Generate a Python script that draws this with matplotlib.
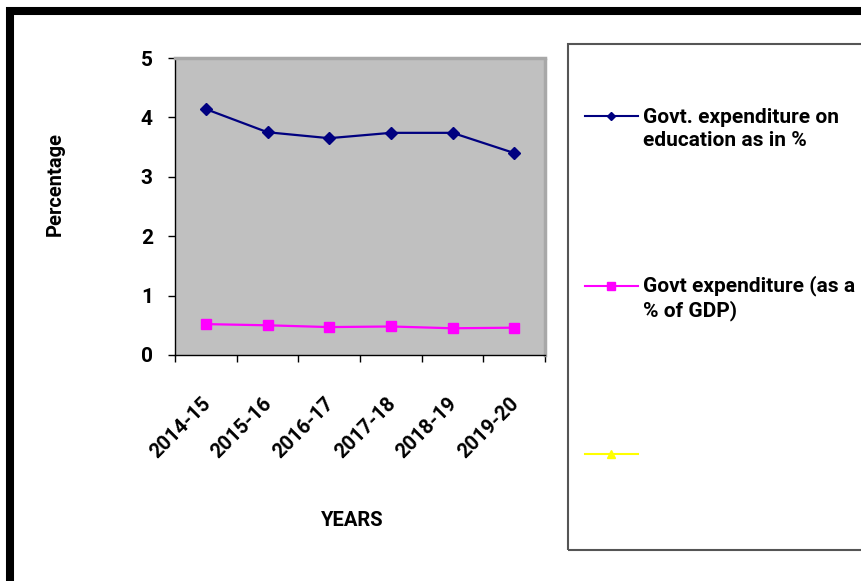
import matplotlib
matplotlib.use('Agg')
import matplotlib.pyplot as plt
import matplotlib.transforms as mtransforms
from matplotlib.lines import Line2D
from matplotlib.patches import Rectangle
from matplotlib.legend_handler import HandlerLine2D

# Data
years = ['2014-15', '2015-16', '2016-17', '2017-18', '2018-19', '2019-20']
edu_pct = [4.14, 3.75, 3.65, 3.74, 3.74, 3.40]
gdp_pct = [0.52, 0.50, 0.47, 0.48, 0.45, 0.46]

label_edu = 'Govt. expenditure on\neducation as in %'
label_gdp = 'Govt expenditure (as a\n% of GDP)'

plt.rcParams['font.family'] = ['Roboto', 'Liberation Sans', 'DejaVu Sans']
plt.rcParams['font.weight'] = 'bold'


class HandlerFirstLine(HandlerLine2D):
    # put the legend sample level with the first text line
    def __init__(self, dy, **kw):
        super().__init__(**kw)
        self.dy = dy

    def create_artists(self, legend, orig_handle, xdescent, ydescent, width,
                       height, fontsize, trans):
        return super().create_artists(legend, orig_handle, xdescent,
                                      ydescent - self.dy * fontsize, width,
                                      height, fontsize, trans)


fig = plt.figure(figsize=(8.62, 5.81), dpi=100)
W, H = 862, 581

# outer black frame
fig.patches.append(Rectangle((10 / W, -4 / H), 900 / W, (H - 11 + 4) / H,
                             transform=fig.transFigure, fill=False,
                             edgecolor='black', linewidth=5.8))

# legend box
fig.patches.append(Rectangle((568 / W, 1 - 550 / H), 320 / W, (550 - 44) / H,
                             transform=fig.transFigure, fill=False,
                             edgecolor='#555555', linewidth=1.5))

ax = fig.add_axes([175 / W, 1 - 355 / H, 370 / W, 297 / H])
ax.set_facecolor('#C0C0C0')

x = [i + 0.5 for i in range(len(years))]
ax.plot(x, edu_pct, color='#000080', marker='D', markersize=6, linewidth=1.6)
ax.plot(x, gdp_pct, color='#FF00FF', marker='s', markersize=7.5, linewidth=1.6)

ax.set_xlim(0, len(years))
ax.set_ylim(0, 5)
ax.set_yticks(range(0, 6))
ax.set_xticks(range(0, len(years) + 1))
ax.set_xticklabels([])
ax.set_xticks(x, minor=True)
ax.set_xticklabels(years, minor=True, rotation=45, ha='right',
                   rotation_mode='anchor', fontsize=14.5, fontweight='bold')
ax.tick_params(axis='x', which='minor', length=0, pad=28)
ax.tick_params(axis='x', which='major', direction='out', length=5, width=1)
ax.tick_params(axis='y', direction='out', length=5, width=1, pad=11, labelsize=15)
for t in ax.get_yticklabels():
    t.set_fontweight('bold')
shift = mtransforms.ScaledTranslation(-5 / 100, 0, fig.dpi_scale_trans)
for t in ax.get_xticklabels(minor=True):
    t.set_transform(t.get_transform() + shift)

for side in ['top', 'right']:
    ax.spines[side].set_color('#a8a8a8')
    ax.spines[side].set_linestyle((0, (1, 1)))
    ax.spines[side].set_linewidth(2.5)
for side in ['left', 'bottom']:
    ax.spines[side].set_color('black')
    ax.spines[side].set_linewidth(1)

fig.text(55 / W, 1 - 184 / H, 'Percentage', rotation=90, ha='center', va='center',
         fontsize=14.5, fontweight='bold')
fig.text(352 / W, 1 - 520 / H, 'YEARS', ha='center', va='center',
         fontsize=14.5, fontweight='bold')

# legend
h_edu = Line2D([], [], color='#000080', marker='D', markersize=4.5, linewidth=1.5)
h_gdp = Line2D([], [], color='#FF00FF', marker='s', markersize=5.5, linewidth=1.5)
h_blank = Line2D([], [], color='#FFFF00', marker='^', markersize=6, linewidth=1.5)
leg = fig.legend([h_edu, h_gdp, h_blank], [label_edu, label_gdp, ' '],
                 loc='upper left', bbox_to_anchor=(566 / W, 1 - 89 / H),
                 frameon=False, fontsize=15, handlelength=2.55, handletextpad=0.24,
                 labelspacing=6.0,
                 handler_map={h_edu: HandlerFirstLine(1.25),
                              h_gdp: HandlerFirstLine(1.25)})
for t in leg.get_texts():
    t.set_linespacing(1.3)
    t.set_fontweight('bold')

fig.savefig('out.png', dpi=100)
